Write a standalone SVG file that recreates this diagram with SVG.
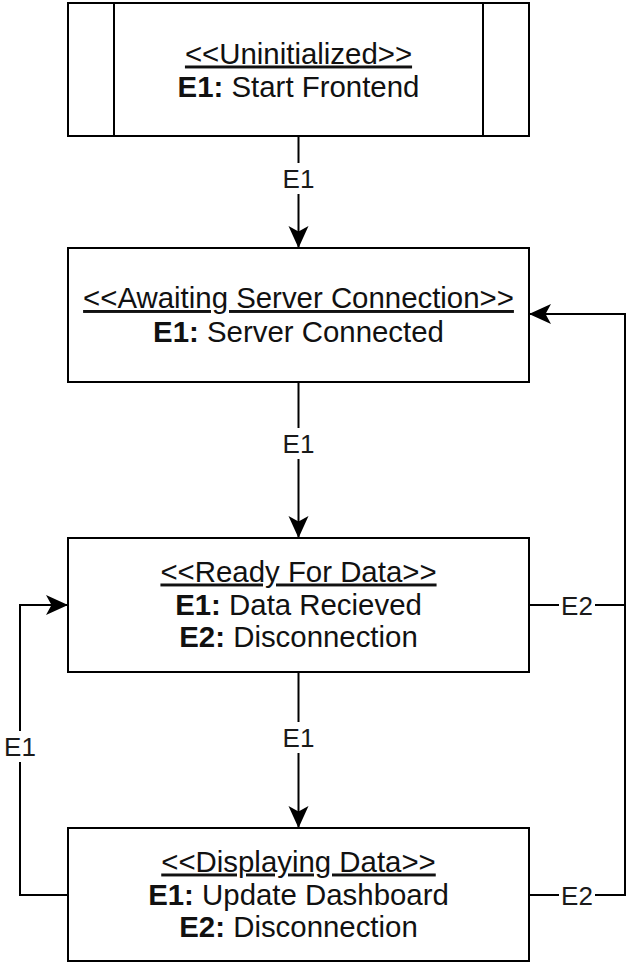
<svg xmlns="http://www.w3.org/2000/svg" width="628" height="963" viewBox="0 0 628 963">
  <style>
    .box { fill: #ffffff; stroke: #000000; stroke-width: 2; }
    .edge { fill: none; stroke: #000000; stroke-width: 2; }
    .t { font-family: "Liberation Sans", Arial, sans-serif; font-size: 29.4px; fill: #111111; text-anchor: middle; }
    .title { text-decoration: underline; }
    .b { font-weight: bold; }
    .lbl { font-family: "Liberation Sans", Arial, sans-serif; font-size: 26px; fill: #1a1a1a; text-anchor: middle; }
    .lblbg { fill: #ffffff; }
  </style>
  <defs>
    <marker id="arrow" markerUnits="userSpaceOnUse" viewBox="-23 -12 24 24" refX="0" refY="0" markerWidth="24" markerHeight="24" orient="auto">
      <path d="M0,0 L-22,-10 L-16.5,0 L-22,10 Z" fill="#000000"/>
    </marker>
  </defs>

  <!-- state nodes -->
  <g id="uninitialized">
    <rect class="box" x="68" y="3" width="461" height="133"/>
    <line class="edge" x1="114" y1="3" x2="114" y2="136"/>
    <line class="edge" x1="483" y1="3" x2="483" y2="136"/>
    <text class="t title" x="298.5" y="63.5">&lt;&lt;Uninitialized&gt;&gt;</text>
    <text class="t" x="298.5" y="97"><tspan class="b">E1:</tspan> Start Frontend</text>
  </g>

  <g id="awaiting-server-connection">
    <rect class="box" x="68" y="248" width="461" height="134"/>
    <text class="t title" x="298.5" y="308">&lt;&lt;Awaiting Server Connection&gt;&gt;</text>
    <text class="t" x="298.5" y="341.5"><tspan class="b">E1:</tspan> Server Connected</text>
  </g>

  <g id="ready-for-data">
    <rect class="box" x="68" y="538" width="461" height="134"/>
    <text class="t title" x="298.5" y="581.5">&lt;&lt;Ready For Data&gt;&gt;</text>
    <text class="t" x="298.5" y="614.5"><tspan class="b">E1:</tspan> Data Recieved</text>
    <text class="t" x="298.5" y="646.5"><tspan class="b">E2:</tspan> Disconnection</text>
  </g>

  <g id="displaying-data">
    <rect class="box" x="68" y="828" width="461" height="133"/>
    <text class="t title" x="298.5" y="871.5">&lt;&lt;Displaying Data&gt;&gt;</text>
    <text class="t" x="298.5" y="904.5"><tspan class="b">E1:</tspan> Update Dashboard</text>
    <text class="t" x="298.5" y="936.5"><tspan class="b">E2:</tspan> Disconnection</text>
  </g>

  <!-- transitions -->
  <g id="connectors">
    <path class="edge" d="M298.5,136 V248" marker-end="url(#arrow)"/>
    <path class="edge" d="M298.5,382 V538" marker-end="url(#arrow)"/>
    <path class="edge" d="M298.5,672 V828" marker-end="url(#arrow)"/>
    <path class="edge" d="M68,895 H20 V605 H68" marker-end="url(#arrow)"/>
    <path class="edge" d="M529,605 H625 V314 H529" marker-end="url(#arrow)"/>
    <path class="edge" d="M529,895 H625 V605"/>

    <rect class="lblbg" x="282" y="163" width="34" height="31"/>
    <text class="lbl" x="298.5" y="187.5">E1</text>
    <rect class="lblbg" x="282" y="428" width="34" height="31"/>
    <text class="lbl" x="298.5" y="452.5">E1</text>
    <rect class="lblbg" x="282" y="722" width="34" height="31"/>
    <text class="lbl" x="298.5" y="746.5">E1</text>
    <rect class="lblbg" x="3" y="731" width="34" height="31"/>
    <text class="lbl" x="20" y="755.5">E1</text>
    <rect class="lblbg" x="559" y="591" width="36" height="28"/>
    <text class="lbl" x="577" y="614.5">E2</text>
    <rect class="lblbg" x="559" y="881" width="36" height="28"/>
    <text class="lbl" x="577" y="904.5">E2</text>
  </g>
</svg>
